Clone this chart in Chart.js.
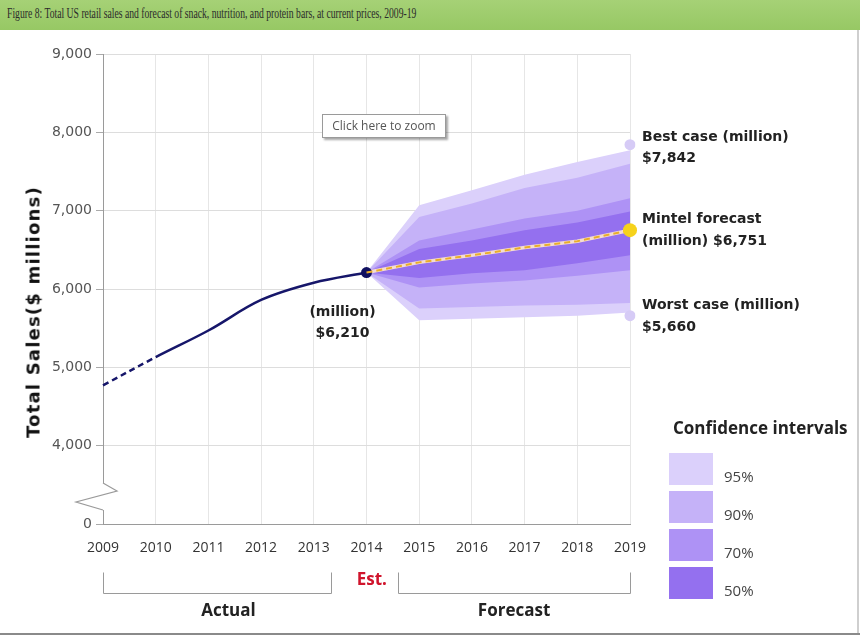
<!DOCTYPE html>
<html>
<head>
<meta charset="utf-8">
<script src="https://cdn.jsdelivr.net/npm/chart.js@4.4.1/dist/chart.umd.min.js"></script>
<style>
    html, body { margin: 0; padding: 0; background: #fff; }
    #wrap { position: relative; width: 860px; height: 637px; overflow: hidden; background: #fff; }
    #salesChart { position: absolute; left: 0; top: 0; }
    .title-bar {
        position: absolute; left: 0; top: 0; width: 860px; height: 30px;
        background: linear-gradient(#a6d176, #97c864);
    }
    .title-bar span {
        position: absolute; left: 7px; top: 5px; white-space: nowrap;
        font: 15px "Liberation Serif", serif; color: #2b2b2b;
        transform: scaleX(0.645); transform-origin: left top;
    }
    .y-title {
        position: absolute; left: 33px; top: 312px; white-space: nowrap;
        transform: translate(-50%, -50%) rotate(-90deg);
        font: bold 18px "DejaVu Sans", sans-serif; letter-spacing: 1.2px; color: #111;
    }
    .zoom-box {
        position: absolute; left: 322px; top: 114px; width: 122px; height: 22px;
        border: 1px solid #9a9a9a; background: #fff;
        box-shadow: 2px 2px 2px rgba(0,0,0,0.35);
        font: 12px "Open Sans", sans-serif; color: #555; text-align: center; line-height: 21px;
    }
    .ci-title {
        position: absolute; left: 673px; top: 416px; white-space: nowrap;
        font: bold 17px "Open Sans", sans-serif; color: #222;
    }
    .ci-swatch { position: absolute; left: 669px; width: 44px; height: 32px; }
    .ci-label {
        position: absolute; left: 724px; font: 15px "Open Sans", sans-serif; color: #444;
    }
    .frame-r { position: absolute; left: 857px; top: 30px; width: 2px; height: 605px; background: #cfcfcf; }
    .frame-b { position: absolute; left: 0; top: 633px; width: 860px; height: 2px; background: #8a8a8a; }
</style>
</head>
<body>
<div id="wrap">
    <canvas id="salesChart" width="860" height="637"></canvas>
    <div class="title-bar"><span>Figure 8: Total US retail sales and forecast of snack, nutrition, and protein bars, at current prices, 2009-19</span></div>
    <div class="y-title">Total Sales($ millions)</div>
    <div class="zoom-box">Click here to zoom</div>
    <div class="ci-title">Confidence intervals</div>
    <div id="ci-legend"></div>
    <div class="frame-r"></div>
    <div class="frame-b"></div>
</div>
<script>
const years = ['2009', '2010', '2011', '2012', '2013', '2014', '2015', '2016', '2017', '2018', '2019'];

// actual sales 2009-13, 2014 estimate
const actualSales = [4770, 5130, 5470, 5860, 6080, 6210, null, null, null, null, null];
// Mintel central forecast
const mintelForecast = [null, null, null, null, null, 6210, 6340, 6430, 6530, 6610, 6751];

// fan chart bands (upper / lower bound per confidence level)
const upper95 = [null, null, null, null, null, 6210, 7070, 7260, 7460, 7620, 7770];
const lower95 = [null, null, null, null, null, 6210, 5600, 5620, 5640, 5660, 5700];
const upper90 = [null, null, null, null, null, 6210, 6920, 7090, 7290, 7420, 7600];
const lower90 = [null, null, null, null, null, 6210, 5750, 5770, 5790, 5800, 5820];
const upper70 = [null, null, null, null, null, 6210, 6620, 6760, 6900, 7000, 7160];
const lower70 = [null, null, null, null, null, 6210, 6020, 6070, 6110, 6170, 6240];
const upper50 = [null, null, null, null, null, 6210, 6510, 6620, 6750, 6850, 6990];
const lower50 = [null, null, null, null, null, 6210, 6140, 6200, 6240, 6330, 6430];

const bestCase = [null, null, null, null, null, null, null, null, null, null, 7842];
const worstCase = [null, null, null, null, null, null, null, null, null, null, 5660];

// axis is broken below 4,000 - the bottom tick stands for zero
const yTicks = [3000, 4000, 5000, 6000, 7000, 8000, 9000];
const yTickLabels = ['0', '4,000', '5,000', '6,000', '7,000', '8,000', '9,000'];

const ciLevels = ['95%', '90%', '70%', '50%'];
const ciColors = ['#dbd0fb', '#c5b2f8', '#ae92f5', '#9470ef'];

function renderLegend() {
    const box = document.getElementById('ci-legend');
    const tops = [453, 491, 529, 567];
    box.innerHTML = ciLevels.map((lvl, i) => `
        <div class="ci-swatch" style="top:${tops[i]}px;background:${ciColors[i]}"></div>
        <div class="ci-label" style="top:${tops[i] + 13}px">${lvl}</div>
    `).join('');
}

function band(data, color, fill, order) {
    return {
        data: data,
        borderWidth: 0,
        pointRadius: 0,
        backgroundColor: color,
        fill: fill,
        tension: 0,
        order: order
    };
}

const annotations = {
    id: 'annotations',
    afterDatasetsDraw(chart) {
        const { ctx, scales: { x, y } } = chart;
        ctx.save();
        ctx.fillStyle = '#222';
        ctx.font = 'bold 14px "DejaVu Sans", sans-serif';
        ctx.textBaseline = 'middle';

        // estimate for 2014
        const ex = x.getPixelForValue(5), ey = y.getPixelForValue(actualSales[5]);
        ctx.textAlign = 'center';
        ctx.fillText('(million)', ex - 24, ey + 40);
        ctx.fillText('$' + actualSales[5].toLocaleString('en-US'), ex - 24, ey + 61);

        // end-point notes
        const rx = x.getPixelForValue(10) + 12;
        ctx.textAlign = 'left';
        const best = y.getPixelForValue(bestCase[10]);
        ctx.fillText('Best case (million)', rx, best - 7);
        ctx.fillText('$' + bestCase[10].toLocaleString('en-US'), rx, best + 14);
        const mid = y.getPixelForValue(mintelForecast[10]);
        ctx.fillText('Mintel forecast', rx, mid - 11);
        ctx.fillText('(million) $' + mintelForecast[10].toLocaleString('en-US'), rx, mid + 11);
        const worst = y.getPixelForValue(worstCase[10]);
        ctx.fillText('Worst case (million)', rx, worst - 10);
        ctx.fillText('$' + worstCase[10].toLocaleString('en-US'), rx, worst + 12);

        // period brackets under the x axis
        ctx.strokeStyle = '#9a9a9a';
        ctx.lineWidth = 1;
        const top = 572.5, bot = 593.5;
        const bracket = (a, b) => {
            const xa = Math.round(x.getPixelForValue(a)) + 0.5;
            const xb = Math.round(x.getPixelForValue(b)) + 0.5;
            ctx.beginPath();
            ctx.moveTo(xa, top); ctx.lineTo(xa, bot); ctx.lineTo(xb, bot); ctx.lineTo(xb, top);
            ctx.stroke();
        };
        bracket(0, 4.33);
        bracket(5.6, 10);

        ctx.textAlign = 'center';
        ctx.font = 'bold 17px "Open Sans", sans-serif';
        ctx.fillStyle = '#d0142c';
        ctx.fillText('Est.', x.getPixelForValue(5.1), 580);
        ctx.fillStyle = '#222';
        ctx.fillText('Actual', x.getPixelForValue(2.38), 611);
        ctx.fillText('Forecast', x.getPixelForValue(7.8), 611);
        ctx.restore();
    }
};

const axisBreak = {
    id: 'axisBreak',
    afterDraw(chart) {
        const { ctx, chartArea: { left, bottom } } = chart;
        ctx.save();
        ctx.fillStyle = '#fff';
        ctx.fillRect(left - 2, bottom - 41, 5, 27);
        ctx.strokeStyle = '#9a9a9a';
        ctx.lineWidth = 1.2;
        ctx.beginPath();
        ctx.moveTo(left, bottom - 41);
        ctx.lineTo(left + 14, bottom - 33);
        ctx.lineTo(left - 27, bottom - 22);
        ctx.lineTo(left, bottom - 14);
        ctx.stroke();
        ctx.restore();
    }
};

function renderSalesChart() {
    const ctx = document.getElementById('salesChart').getContext('2d');

    new Chart(ctx, {
        type: 'line',
        data: {
            labels: years,
            datasets: [
                {
                    data: bestCase, showLine: false, pointRadius: 5.5,
                    pointBackgroundColor: '#d6cbf6', pointBorderWidth: 0, order: 0
                },
                {
                    data: worstCase, showLine: false, pointRadius: 5.5,
                    pointBackgroundColor: '#d6cbf6', pointBorderWidth: 0, order: 0
                },
                {
                    data: mintelForecast,
                    borderColor: '#e9ad2a', borderWidth: 2, borderDash: [6, 4],
                    pointRadius: mintelForecast.map((v, i) => i === 10 ? 7 : 0),
                    pointBackgroundColor: '#f6d21c', pointBorderWidth: 0,
                    fill: false, order: 1
                },
                {
                    data: mintelForecast,
                    borderColor: 'rgba(255, 232, 205, 0.9)', borderWidth: 3.5,
                    pointRadius: 0, fill: false, order: 2
                },
                {
                    data: actualSales,
                    borderColor: '#16166a', borderWidth: 2.5,
                    tension: 0.35,
                    segment: { borderDash: c => c.p0DataIndex === 0 ? [6, 4] : undefined },
                    pointRadius: actualSales.map((v, i) => i === 5 ? 5.5 : 0),
                    pointBackgroundColor: '#101060', pointBorderWidth: 0,
                    fill: false, order: 1
                },
                band(upper50, ciColors[3], '+1', 11),
                band(lower50, ciColors[3], false, 11),
                band(upper70, ciColors[2], '+1', 12),
                band(lower70, ciColors[2], false, 12),
                band(upper90, ciColors[1], '+1', 13),
                band(lower90, ciColors[1], false, 13),
                band(upper95, ciColors[0], '+1', 14),
                band(lower95, ciColors[0], false, 14)
            ]
        },
        options: {
            responsive: false,
            animation: false,
            layout: { padding: { left: 0, top: 54, right: 230, bottom: 73 } },
            plugins: {
                legend: { display: false },
                tooltip: { enabled: false }
            },
            scales: {
                x: {
                    offset: false,
                    afterFit: s => { s.height = 40; },
                    grid: { color: '#e6e6e6', drawTicks: false, offset: false },
                    border: { color: '#9a9a9a' },
                    ticks: {
                        padding: 16, color: '#333',
                        font: { family: '"Open Sans", sans-serif', size: 14 },
                        maxRotation: 0
                    }
                },
                y: {
                    min: 3000,
                    max: 9000,
                    afterFit: s => { s.width = 103; },
                    afterBuildTicks: s => { s.ticks = yTicks.map(v => ({ value: v })); },
                    grid: { color: '#dddddd', tickLength: 7, tickColor: '#aaaaaa' },
                    border: { color: '#9a9a9a' },
                    ticks: {
                        padding: 4, color: '#555',
                        font: { family: '"DejaVu Sans", sans-serif', size: 14 },
                        callback: v => yTickLabels[yTicks.indexOf(v)]
                    }
                }
            }
        },
        plugins: [annotations, axisBreak]
    });
}

renderLegend();
renderSalesChart();
</script>
</body>
</html>
